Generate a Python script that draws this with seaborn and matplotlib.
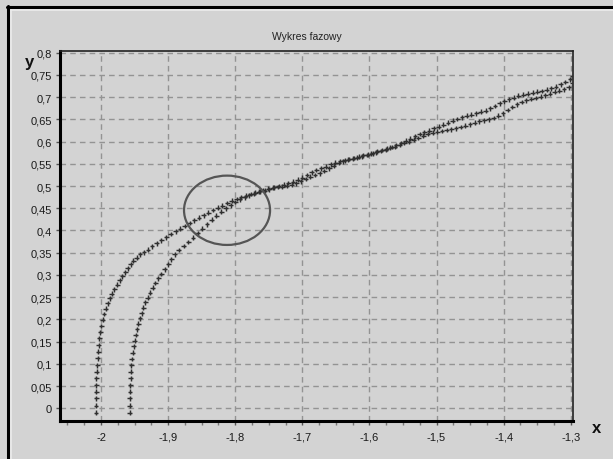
import numpy as np
import pandas as pd
import matplotlib
matplotlib.use("Agg")
import matplotlib.pyplot as plt
from matplotlib.ticker import MultipleLocator, FuncFormatter, FixedLocator
from matplotlib.patches import Ellipse
from matplotlib.lines import Line2D
import seaborn as sns

# ---------------- data ----------------
curve_a_x = [-2.0075, -2.0075, -2.0073, -2.0072, -2.0070, -2.0068, -2.0063, -2.0058, -2.0050, -2.0043,
             -2.0035, -2.0025, -2.0010, -1.9995, -1.9975, -1.9955, -1.9930, -1.9900, -1.9870, -1.9840,
             -1.9800, -1.9760, -1.9720, -1.9680, -1.9640, -1.9600, -1.9560, -1.9520, -1.9470, -1.9420,
             -1.9360, -1.9300, -1.9240, -1.9170, -1.9100, -1.9030, -1.8960, -1.8890, -1.8820, -1.8750,
             -1.8680, -1.8610, -1.8540, -1.8470, -1.8400, -1.8330, -1.8260, -1.8190, -1.8120, -1.8050,
             -1.7980, -1.7910, -1.7840, -1.7770, -1.7700, -1.7630, -1.7560, -1.7490, -1.7420, -1.7350,
             -1.7280, -1.7210, -1.7140, -1.7070, -1.7000, -1.6930, -1.6860, -1.6790, -1.6720, -1.6650,
             -1.6580, -1.6510, -1.6440, -1.6370, -1.6300, -1.6230, -1.6160, -1.6090, -1.6020, -1.5950,
             -1.5880, -1.5810, -1.5740, -1.5670, -1.5600, -1.5530, -1.5460, -1.5390, -1.5320, -1.5250,
             -1.5180, -1.5110, -1.5040, -1.4970, -1.4900, -1.4830, -1.4760, -1.4690, -1.4620, -1.4550,
             -1.4480, -1.4410, -1.4340, -1.4270, -1.4200, -1.4130, -1.4060, -1.3990, -1.3920, -1.3850,
             -1.3780, -1.3710, -1.3640, -1.3570, -1.3500, -1.3430, -1.3360, -1.3290, -1.3220, -1.3150,
             -1.3080, -1.3010, -1.2970]
curve_a_y = [-0.010, 0.006, 0.022, 0.037, 0.052, 0.067, 0.082, 0.097, 0.112, 0.127,
             0.142, 0.157, 0.171, 0.185, 0.199, 0.212, 0.224, 0.236, 0.247, 0.258,
             0.268, 0.278, 0.288, 0.297, 0.306, 0.315, 0.324, 0.332, 0.339, 0.346,
             0.351, 0.357, 0.364, 0.371, 0.378, 0.385, 0.392, 0.398, 0.404, 0.410,
             0.417, 0.423, 0.429, 0.434, 0.440, 0.446, 0.451, 0.456, 0.462, 0.467,
             0.471, 0.475, 0.478, 0.482, 0.485, 0.488, 0.490, 0.493, 0.497, 0.500,
             0.503, 0.507, 0.510, 0.514, 0.519, 0.525, 0.531, 0.536, 0.540, 0.544,
             0.549, 0.553, 0.556, 0.558, 0.561, 0.563, 0.566, 0.569, 0.571, 0.574,
             0.578, 0.581, 0.584, 0.588, 0.592, 0.597, 0.602, 0.607, 0.612, 0.617,
             0.621, 0.625, 0.630, 0.634, 0.638, 0.643, 0.647, 0.651, 0.655, 0.658,
             0.661, 0.664, 0.667, 0.670, 0.675, 0.680, 0.686, 0.691, 0.695, 0.699,
             0.703, 0.706, 0.708, 0.710, 0.712, 0.714, 0.717, 0.720, 0.724, 0.729,
             0.734, 0.740, 0.747]

curve_b_x = [-1.9570, -1.9570, -1.9570, -1.9568, -1.9565, -1.9560, -1.9555, -1.9548, -1.9540, -1.9530,
             -1.9515, -1.9500, -1.9485, -1.9465, -1.9445, -1.9420, -1.9395, -1.9370, -1.9340, -1.9305,
             -1.9270, -1.9230, -1.9190, -1.9145, -1.9100, -1.9050, -1.9000, -1.8950, -1.8900, -1.8840,
             -1.8770, -1.8700, -1.8630, -1.8560, -1.8490, -1.8420, -1.8350, -1.8280, -1.8210, -1.8140,
             -1.8070, -1.8000, -1.7930, -1.7860, -1.7790, -1.7720, -1.7650, -1.7580, -1.7510, -1.7440,
             -1.7370, -1.7300, -1.7230, -1.7160, -1.7090, -1.7020, -1.6950, -1.6880, -1.6810, -1.6740,
             -1.6670, -1.6600, -1.6530, -1.6460, -1.6390, -1.6320, -1.6250, -1.6180, -1.6110, -1.6040,
             -1.5970, -1.5900, -1.5830, -1.5760, -1.5690, -1.5620, -1.5550, -1.5480, -1.5410, -1.5340,
             -1.5270, -1.5200, -1.5130, -1.5060, -1.4990, -1.4920, -1.4850, -1.4780, -1.4710, -1.4640,
             -1.4570, -1.4500, -1.4430, -1.4360, -1.4290, -1.4220, -1.4150, -1.4080, -1.4010, -1.3940,
             -1.3870, -1.3800, -1.3730, -1.3660, -1.3590, -1.3520, -1.3450, -1.3380, -1.3310, -1.3240,
             -1.3170, -1.3100, -1.3030, -1.2970]
curve_b_y = [-0.010, 0.006, 0.022, 0.037, 0.052, 0.067, 0.082, 0.097, 0.111, 0.125,
             0.139, 0.152, 0.165, 0.178, 0.190, 0.202, 0.214, 0.226, 0.238, 0.249,
             0.260, 0.271, 0.282, 0.292, 0.302, 0.313, 0.324, 0.335, 0.346, 0.356,
             0.365, 0.374, 0.384, 0.394, 0.404, 0.414, 0.424, 0.433, 0.442, 0.450,
             0.457, 0.464, 0.470, 0.475, 0.479, 0.483, 0.487, 0.491, 0.494, 0.496,
             0.498, 0.499, 0.501, 0.503, 0.506, 0.511, 0.516, 0.521, 0.525, 0.529,
             0.534, 0.540, 0.546, 0.552, 0.556, 0.559, 0.562, 0.564, 0.567, 0.570,
             0.573, 0.576, 0.579, 0.582, 0.586, 0.589, 0.593, 0.597, 0.600, 0.604,
             0.608, 0.613, 0.617, 0.620, 0.622, 0.624, 0.626, 0.628, 0.630, 0.633,
             0.636, 0.639, 0.643, 0.646, 0.648, 0.650, 0.653, 0.658, 0.664, 0.671,
             0.678, 0.684, 0.689, 0.693, 0.696, 0.698, 0.701, 0.704, 0.708, 0.712,
             0.715, 0.718, 0.722, 0.731]

x_ticks = [-2.0, -1.9, -1.8, -1.7, -1.6, -1.5, -1.4, -1.3]
y_ticks = [0.0, 0.05, 0.1, 0.15, 0.2, 0.25, 0.3, 0.35, 0.4, 0.45, 0.5, 0.55, 0.6, 0.65, 0.7, 0.75, 0.8]

title_text = "Wykres fazowy"
x_label = "x"
y_label = "y"

# highlighted region (ellipse) in data units
ellipse_center = (-1.8122, 0.4455)
ellipse_size = (0.1282, 0.156)

# ---------------- style ----------------
BG = "#d3d3d3"
sns.set_theme(style="ticks")
plt.rcParams["font.family"] = ["Liberation Sans", "DejaVu Sans"]

df = pd.DataFrame({
    "x": curve_a_x + curve_b_x,
    "y": curve_a_y + curve_b_y,
    "curve": ["A"] * len(curve_a_x) + ["B"] * len(curve_b_x),
})

fig = plt.figure(figsize=(6.13, 4.60), dpi=100, facecolor=BG)
ax = fig.add_axes([0.0979, 0.0833, 0.8369, 0.8037])
ax.set_facecolor(BG)

sns.scatterplot(data=df, x="x", y="y", hue="curve", palette=["#303030", "#303030"],
                marker="+", s=12, linewidth=1.05, legend=False, ax=ax, zorder=3)

ax.set_xlim(-2.0611, -1.2966)
ax.set_ylim(-0.028, 0.804)

ax.xaxis.set_major_locator(FixedLocator(x_ticks))
ax.xaxis.set_minor_locator(MultipleLocator(0.025))
ax.yaxis.set_major_locator(FixedLocator(y_ticks))

fmt = FuncFormatter(lambda v, p: ("%g" % round(v, 3)).replace(".", ","))
ax.xaxis.set_major_formatter(fmt)
ax.yaxis.set_major_formatter(fmt)

ax.grid(True, which="major", linestyle=(0, (4, 3)), color="#939393", linewidth=1.0, zorder=1)
ax.set_axisbelow(True)

ax.tick_params(axis="both", which="major", direction="out", length=3, width=1,
               color="#555555", labelsize=8, labelcolor="#1a1a1a", pad=3)
ax.tick_params(axis="x", which="minor", direction="out", length=3, width=1, color="#777777")
ax.tick_params(axis="x", which="major", pad=5)

for side in ["left", "bottom"]:
    ax.spines[side].set_linewidth(2.2)
    ax.spines[side].set_color("black")
for side in ["top", "right"]:
    ax.spines[side].set_linewidth(1.2)
    ax.spines[side].set_color("#222222")

ax.set_xlabel("")
ax.set_ylabel("")

ell = Ellipse(ellipse_center, ellipse_size[0], ellipse_size[1], fill=False,
              edgecolor="#555555", linewidth=1.6, zorder=4)
ax.add_patch(ell)

fig.text(0.5, 1 - 37 / 460, title_text, ha="center", va="center", fontsize=7.5, color="#222222")
fig.text(597 / 613, 1 - 429 / 460, x_label, ha="center", va="center", fontsize=12,
         fontweight="bold", color="#111111")
fig.text(29 / 613, 1 - 62 / 460, y_label, ha="center", va="center", fontsize=12,
         fontweight="bold", color="#111111", zorder=10)

# outer window frame
fig.add_artist(Line2D([7 / 613, 1], [1 - 8 / 460, 1 - 8 / 460], color="black", linewidth=2.2,
                      transform=fig.transFigure))
fig.add_artist(Line2D([8 / 613, 8 / 613], [0, 1 - 7 / 460], color="black", linewidth=2.2,
                      transform=fig.transFigure))
fig.add_artist(Line2D([10.5 / 613, 1], [1 - 10.5 / 460, 1 - 10.5 / 460], color="#ececec", linewidth=1.2,
                      transform=fig.transFigure))
fig.add_artist(Line2D([10.5 / 613, 10.5 / 613], [0, 1 - 10.5 / 460], color="#ececec", linewidth=1.2,
                      transform=fig.transFigure))

fig.savefig("out.png", dpi=100, facecolor=BG)
